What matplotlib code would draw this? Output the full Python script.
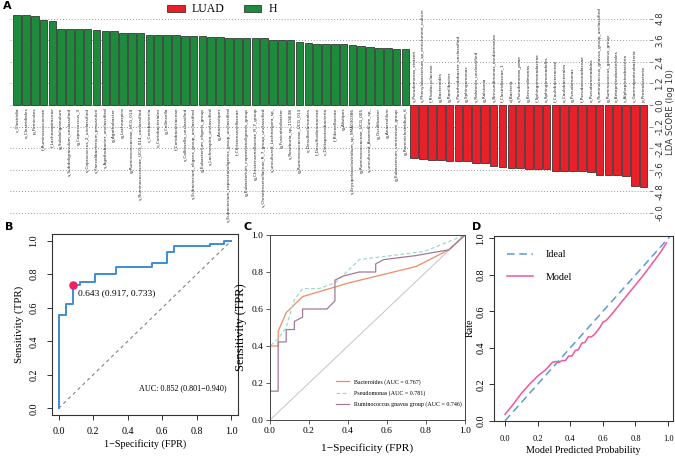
import matplotlib
matplotlib.use('Agg')
import matplotlib.pyplot as plt
import numpy as np
from matplotlib.patches import Patch
from matplotlib.lines import Line2D

# ---------------- data ----------------
h_taxa = ["c_Clostridia", "o_Clostridiales", "p_Firmicutes", "f_Ruminococcaceae", "f_Lachnospiraceae",
          "g_Subdoligranulum", "s_Subdoligranulum_unclassified", "g_Coprococcus_3",
          "s_Coprococcus_2_unclassified", "s_Faecalibacterium_prausnitzii", "s_Agathobacter_unclassified",
          "g_Agathobacter", "g_Lachnospira", "g_Ruminococcaceae_UCG_014",
          "s_Ruminococcaceae_UCG_014_unclassified", "c_Coriobacteriia", "o_Coriobacteriales",
          "g_Collinsella", "f_Coriobacteriaceae", "s_Collinsella_unclassified",
          "s_Eubacterium_eligens_group_unclassified", "g_Eubacterium_eligens_group",
          "s_Lachnospira_unclassified", "g_Anaerostipes",
          "s_Eubacterium_coprostanoligenes_group_unclassified", "f_Christensenellaceae",
          "g_Eubacterium_coprostanoligenes_group", "g_Christensenellaceae_R_7_group",
          "s_Christensenellaceae_R_7_group_unclassified", "s_uncultured_Lachnospira_sp_",
          "g_Fusicatenibacter", "s_Roseburia_sp_11SE38", "g_Ruminococcaceae_UCG_013",
          "o_Desulfovibrionales", "f_Desulfovibrionaceae", "c_Deltaproteobacteria",
          "f_Rikenellaceae", "g_Alistipes", "s_Erysipelatoclostridium_sp_SMA030386",
          "g_Ruminococcaceae_UCG_005", "s_uncultured_Anaerofilum_sp_", "g_Oscillibacter",
          "g_Anaerofilum", "g_Eubacterium_ventriosum_group", "g_Ruminiclostridium_6"]
h_lda = [4.98, 4.98, 4.93, 4.70, 4.68, 4.24, 4.22, 4.20, 4.20, 4.14, 4.11, 4.11, 4.02, 4.02, 4.02,
         3.91, 3.91, 3.89, 3.89, 3.83, 3.83, 3.82, 3.79, 3.76, 3.74, 3.70, 3.70, 3.70, 3.70, 3.61,
         3.61, 3.59, 3.50, 3.43, 3.41, 3.41, 3.39, 3.37, 3.33, 3.26, 3.22, 3.18, 3.15, 3.13, 3.11]

luad_taxa = ["s_Pseudomonas_stutzeri", "s_Phenylobacterium_sp_enrichment_culture", "f_Rhodocyclaceae",
             "g_Bacteroides", "g_Ramlibacter", "s_Pararhodobacter_unclassified", "g_Sphingomonas",
             "s_Ralstonia_unclassified", "g_Ralstonia", "s_Brevundimonas_mediterranea",
             "f_Clostridiaceae_1", "d_Bacteria", "s_Pseudomonas_poae", "g_Brevundimonas",
             "f_Sphingomonadaceae", "o_Sphingomonadales", "f_Caulobacteraceae", "o_Caulobacterales",
             "g_Pseudomonas", "f_Pseudomonadaceae", "o_Pseudomonadales",
             "s_Ruminococcus_gnavus_group_unclassified", "g_Ruminococcus_gnavus_group",
             "o_Betaproteobacteriales", "c_Alphaproteobacteria", "c_Gammaproteobacteria",
             "p_Proteobacteria"]
luad_lda = [-2.96, -3.00, -3.04, -3.04, -3.11, -3.11, -3.11, -3.20, -3.20, -3.41, -3.44, -3.52,
            -3.52, -3.54, -3.54, -3.54, -3.65, -3.65, -3.69, -3.69, -3.72, -3.91, -3.91, -3.91,
            -3.94, -4.48, -4.57]
lda_ticks = [-6.0, -4.8, -3.6, -2.4, -1.2, 0.0, 1.2, 2.4, 3.6, 4.8]

# Panel B: ROC of the combined model
roc_fpr = [0, 0, 0.042, 0.042, 0.083, 0.083, 0.125, 0.125, 0.208, 0.208, 0.333, 0.333, 0.542, 0.542,
           0.625, 0.625, 0.667, 0.667, 0.875, 0.875, 0.958, 0.958, 1.0]
roc_tpr = [0, 0.556, 0.556, 0.622, 0.622, 0.733, 0.733, 0.756, 0.756, 0.80, 0.80, 0.844, 0.844, 0.867,
           0.867, 0.933, 0.933, 0.967, 0.967, 0.982, 0.982, 1.0, 1.0]
best_fpr, best_tpr = 0.083, 0.733

# Panel C: single-genus ROCs
bac_fpr = [0, 0, 0.042, 0.042, 0.083, 0.167, 0.40, 0.75, 0.917, 1.0]
bac_tpr = [0, 0.40, 0.40, 0.48, 0.58, 0.667, 0.74, 0.83, 0.92, 1.0]
pse_fpr = [0, 0, 0.042, 0.083, 0.125, 0.167, 0.25, 0.333, 0.458, 0.625, 0.792, 1.0]
pse_tpr = [0, 0.40, 0.44, 0.50, 0.65, 0.71, 0.71, 0.74, 0.867, 0.889, 0.911, 1.0]
rum_fpr = [0, 0, 0.042, 0.042, 0.083, 0.083, 0.125, 0.125, 0.167, 0.167, 0.292, 0.333, 0.333, 0.375,
           0.458, 0.542, 0.542, 0.583, 0.75, 0.917, 1.0]
rum_tpr = [0, 0.156, 0.156, 0.422, 0.422, 0.489, 0.489, 0.533, 0.556, 0.60, 0.60, 0.644, 0.756, 0.778,
           0.80, 0.80, 0.844, 0.867, 0.889, 0.92, 1.0]
roc_names = ["Bacteroides (AUC = 0.767)", "Pseudomonas (AUC = 0.781)",
             "Ruminococcus gnavus group (AUC = 0.746)"]

# Panel D: calibration
ideal_x = [-0.1, 1.1]
ideal_y = [-0.1, 1.1]
model_x = [0.0, 0.05, 0.10, 0.15, 0.20, 0.25, 0.29, 0.31, 0.33, 0.35, 0.37, 0.39, 0.41, 0.43, 0.45,
           0.47, 0.49, 0.51, 0.53, 0.55, 0.58, 0.60, 0.62, 0.65, 0.70, 0.75, 0.80, 0.85, 0.90, 0.95, 0.99]
model_y = [0.035, 0.09, 0.15, 0.20, 0.245, 0.28, 0.32, 0.325, 0.32, 0.33, 0.33, 0.355, 0.355, 0.385,
           0.39, 0.425, 0.43, 0.46, 0.46, 0.475, 0.51, 0.54, 0.55, 0.58, 0.635, 0.69, 0.745, 0.80,
           0.86, 0.92, 0.975]
unit_ticks = [0.0, 0.2, 0.4, 0.6, 0.8, 1.0]

# ---------------- figure ----------------
SERIF = 'Liberation Serif'
plt.rcParams['font.family'] = [SERIF, 'DejaVu Serif']
plt.rcParams['axes.unicode_minus'] = True

W, H = 675, 457
fig = plt.figure(figsize=(W / 100, H / 100), dpi=100)


def ax_px(l, t, r, b):
    return fig.add_axes([l / W, 1 - b / H, (r - l) / W, (b - t) / H])


# ---------- Panel A ----------
GREEN = '#1E8A3C'
RED = '#E8202A'
axA = ax_px(10, 6, 649, 217.5)
nh = len(h_lda)
xh = np.arange(nh)
xl = np.arange(nh, nh + len(luad_lda))
bh = axA.bar(xh, h_lda, width=0.86, color=GREEN, edgecolor='#202020', linewidth=0.5, zorder=3)
bl = axA.bar(xl, luad_lda, width=0.86, color=RED, edgecolor='#202020', linewidth=0.5, zorder=3)
for x, name in zip(xh, h_taxa):
    axA.text(x, -0.15, name, rotation=90, ha='center', va='top', fontsize=3.1,
             family='DejaVu Sans', color='#222222')
for x, name in zip(xl, luad_taxa):
    axA.text(x, 0.15, name, rotation=90, ha='center', va='bottom', fontsize=3.1,
             family='DejaVu Sans', color='#222222')
axA.set_xlim(-0.8, 71.6)
axA.set_ylim(-6.25, 5.5)
axA.set_xticks([])
axA.set_yticks(lda_ticks)
axA.set_yticklabels([f"{v:.1f}" for v in lda_ticks], family='DejaVu Sans')
axA.yaxis.tick_right()
axA.tick_params(axis='y', labelrotation=90, labelsize=6.2, length=3, width=0.6, color='#777777',
                pad=1.5, labelcolor='#333333')
for lbl in axA.get_yticklabels():
    lbl.set_va('center')
axA.yaxis.set_label_position('right')
axA.set_ylabel('LDA SCORE (log 10)', fontsize=6.2, family='DejaVu Sans', rotation=90, labelpad=1,
               color='#333333')
axA.grid(axis='y', linestyle=(0, (1, 2.5)), color='#777777', linewidth=0.6, zorder=0)
for s in axA.spines.values():
    s.set_visible(False)
fig.legend([Patch(facecolor=RED, edgecolor='#202020', linewidth=0.5),
            Patch(facecolor=GREEN, edgecolor='#202020', linewidth=0.5)], ['LUAD', 'H'],
           loc='center', bbox_to_anchor=(222 / W, 1 - 9.5 / H), ncol=2, frameon=False,
           prop={'family': SERIF, 'size': 8.5}, handlelength=1.5, handleheight=0.6,
           handletextpad=0.6, columnspacing=1.6)
fig.text(3 / W, 1 - 6 / H, 'A', fontsize=8, fontweight='bold', family='DejaVu Sans', va='center')

# ---------- Panel B ----------
BLUE = '#3D8BD6'
axB = ax_px(51.7, 234, 238.3, 415)
axB.plot([0, 1], [0, 1], linestyle=(0, (3, 3)), color='#808080', linewidth=0.8)
axB.plot(roc_fpr, roc_tpr, color=BLUE, linewidth=1.4)
axB.scatter([best_fpr], [best_tpr], s=26, color='#F2205A', zorder=5)
axB.text(best_fpr + 0.027, best_tpr - 0.046, '0.643 (0.917, 0.733)', fontsize=6.8, ha='left',
         va='center')
axB.text(0.467, 0.118, 'AUC: 0.852 (0.801\u22120.940)', fontsize=5.9, ha='left', va='center')
axB.set_xlim(-0.04, 1.04)
axB.set_ylim(-0.04, 1.04)
axB.set_xticks(unit_ticks)
axB.set_yticks(unit_ticks)
axB.set_xticklabels([f"{v:.1f}" for v in unit_ticks])
axB.set_yticklabels([f"{v:.1f}" for v in unit_ticks])
axB.tick_params(direction='out', length=3.5, width=0.7, labelsize=7.2, color='#333333')
axB.tick_params(axis='x', pad=5)
axB.tick_params(axis='y', labelrotation=90, pad=6)
for lbl in axB.get_yticklabels():
    lbl.set_va('center')
axB.set_xlabel('1\u2212Specificity (FPR)', fontsize=7.3, labelpad=2)
axB.set_ylabel('Sensitivity (TPR)', fontsize=7.8, labelpad=4)
for s in axB.spines.values():
    s.set_linewidth(0.8)
    s.set_color('#333333')
fig.text(5 / W, 1 - 227 / H, 'B', fontsize=8, fontweight='bold', family='DejaVu Sans', va='center')

# ---------- Panel C ----------
axC = ax_px(270, 235, 465, 420)
axC.plot([0, 1], [0, 1], color='#CDBFC6', linewidth=0.7)
axC.plot(bac_fpr, bac_tpr, color='#F08A66', linewidth=0.9, label=roc_names[0])
axC.plot(pse_fpr, pse_tpr, color='#9ED9C8', linewidth=0.9, linestyle=(0, (3, 2)), label=roc_names[1])
axC.plot(rum_fpr, rum_tpr, color='#A27A97', linewidth=0.9, label=roc_names[2])
axC.set_xlim(0, 1)
axC.set_ylim(0, 1)
axC.set_xticks(unit_ticks)
axC.set_yticks(unit_ticks)
axC.set_xticklabels([f"{v:.1f}" for v in unit_ticks])
axC.set_yticklabels([f"{v:.1f}" for v in unit_ticks])
axC.tick_params(direction='out', length=3, width=0.6, labelsize=6.8, color='#444444', pad=2)
axC.set_xlabel('1\u2212Specificity (FPR)', fontsize=8.2, labelpad=6)
axC.set_ylabel('Sensitivity (TPR)', fontsize=9, labelpad=3)
for s in axC.spines.values():
    s.set_linewidth(0.7)
    s.set_color('#444444')
axC.legend(loc='lower left', bbox_to_anchor=(0.31, 0.04), frameon=False, fontsize=4.3,
           handlelength=2.2, labelspacing=0.9, handletextpad=0.8)
fig.text(243 / W, 1 - 227 / H, 'C', fontsize=8, fontweight='bold', family='DejaVu Sans', va='center')

# ---------- Panel D ----------
axD = ax_px(494.3, 235.7, 673, 420.7)
axD.plot(ideal_x, ideal_y, color='#5B9BD5', linestyle=(0, (5, 3)), linewidth=1.1, label='Ideal')
axD.plot(model_x, model_y, color='#F0559D', linewidth=1.1, label='Model')
axD.set_xlim(-0.066, 1.03)
axD.set_ylim(0, 1.015)
axD.set_xticks(unit_ticks)
axD.set_yticks(unit_ticks)
axD.set_xticklabels([f"{v:.1f}" for v in unit_ticks])
axD.set_yticklabels([f"{v:.1f}" for v in unit_ticks])
axD.tick_params(direction='out', length=3.5, width=0.7, color='#333333')
axD.tick_params(axis='x', labelsize=6, pad=7)
axD.tick_params(axis='y', labelsize=7.3, labelrotation=90, pad=3)
for lbl in axD.get_yticklabels():
    lbl.set_va('center')
axD.set_xlabel('Model Predicted Probability', fontsize=7.2, labelpad=2)
axD.set_ylabel('Rate', fontsize=7.2, labelpad=1)
for s in axD.spines.values():
    s.set_linewidth(0.8)
    s.set_color('#333333')
axD.legend(loc='upper left', bbox_to_anchor=(0.02, 0.97), frameon=False, fontsize=7.3,
           handlelength=2.6, labelspacing=1.3, handletextpad=1.2)
fig.text(472 / W, 1 - 227 / H, 'D', fontsize=8, fontweight='bold', family='DejaVu Sans', va='center')

fig.savefig('out.png', dpi=100)
